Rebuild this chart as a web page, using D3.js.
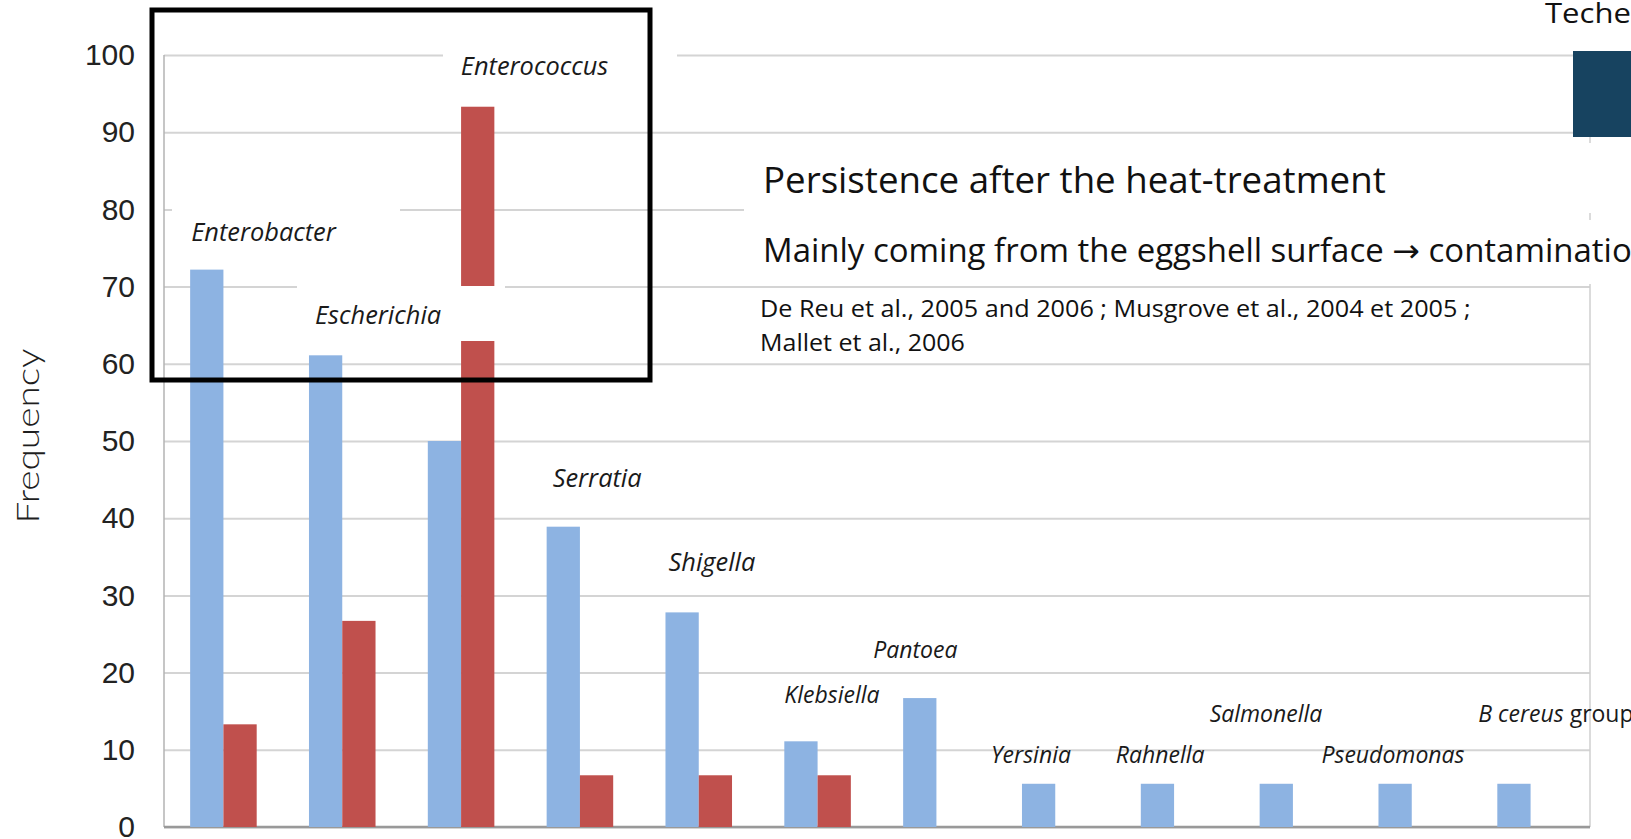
<!DOCTYPE html>
<html>
<head>
<meta charset="utf-8">
<script src="https://cdn.jsdelivr.net/npm/d3@7"></script>
<style>
  body { margin: 0; background: #fff; overflow: hidden; }
  svg { display: block; }
</style>
</head>
<body>
<div id="chart"></div>
<script>
var genera = ["Enterobacter", "Escherichia", "Enterococcus", "Serratia", "Shigella", "Klebsiella",
              "Pantoea", "Yersinia", "Rahnella", "Salmonella", "Pseudomonas", "B cereus group"];
var seriesBlue = [72.2, 61.1, 50.0, 38.9, 27.8, 11.1, 16.7, 5.6, 5.6, 5.6, 5.6, 5.6];
var seriesRed  = [13.3, 26.7, 93.3, 6.7, 6.7, 6.7, 0, 0, 0, 0, 0, 0];
var yTicks = [0, 10, 20, 30, 40, 50, 60, 70, 80, 90, 100];

// where each genus name sits, in px from its group, and its size
var labelDx = [1, 6, 33, 6, 3, 0, -30, -31, -25, -50, -57, -19];
var labelDy = [29, 31, 32, 40, 41, 38, 40, 21, 21, 62, 21, 62];
var labelSize = [25.4, 25.4, 25.4, 25.4, 25.4, 23, 23, 23, 23, 23, 23, 23];

var margin = {top: 55, right: 41, bottom: 12, left: 164},
    width = 1631 - margin.left - margin.right,
    height = 839 - margin.top - margin.bottom;

var x = d3.scaleBand().domain(genera).range([0, width]).paddingInner(0.44).paddingOuter(0.22);
var xs = d3.scaleBand().domain(["blue", "red"]).range([0, x.bandwidth()]);
var y = d3.scaleLinear().domain([0, 100]).range([height, 0]);
var colour = {blue: "#8db3e2", red: "#c0504d"};

var root = d3.select("#chart").append("svg")
    .attr("width", 1631)
    .attr("height", 839);

var svg = root.append("g")
    .attr("transform", "translate(" + margin.left + "," + margin.top + ")");

// gridlines
svg.append("g")
    .call(d3.axisLeft(y).tickValues(yTicks).tickSize(-width).tickFormat(""))
    .call(function(g) { g.select(".domain").remove(); })
    .selectAll("line")
    .attr("stroke", "#d4d4d4")
    .attr("stroke-width", 2);

// y labels
svg.append("g")
    .call(d3.axisLeft(y).tickValues(yTicks).tickSize(0).tickPadding(29))
    .call(function(g) { g.select(".domain").remove(); })
    .selectAll("text")
    .style("font-family", "'Liberation Sans', Arial, sans-serif")
    .style("font-size", "30px")
    .attr("fill", "#222");

svg.append("line")
    .attr("x1", 0).attr("x2", 0).attr("y1", 0).attr("y2", height)
    .attr("stroke", "#b3b3b3").attr("stroke-width", 1.5);

svg.append("line")
    .attr("x1", width).attr("x2", width).attr("y1", 0).attr("y2", height)
    .attr("stroke", "#cfcfcf").attr("stroke-width", 1.5);

svg.append("line")
    .attr("x1", 0).attr("x2", width).attr("y1", height).attr("y2", height)
    .attr("stroke", "#999").attr("stroke-width", 2.5);

var groups = genera.map(function(g, i) {
  return {genus: g, i: i, values: [{key: "blue", v: seriesBlue[i]}, {key: "red", v: seriesRed[i]}]};
});

svg.selectAll(".grp")
    .data(groups)
  .enter().append("g")
    .attr("class", "grp")
    .attr("transform", function(d) { return "translate(" + x(d.genus) + ",0)"; })
  .selectAll("rect")
    .data(function(d) { return d.values.filter(function(e) { return e.v > 0; }); })
  .enter().append("rect")
    .attr("x", function(d) { return xs(d.key); })
    .attr("y", function(d) { return y(d.v); })
    .attr("width", xs.bandwidth())
    .attr("height", function(d) { return height - y(d.v); })
    .attr("fill", function(d) { return colour[d.key]; });

// white text boxes from the slide, they hide parts of the grid
var boxes = [
  [172, 198, 228, 60],
  [297, 286, 208, 55],
  [443, 35, 234, 65],
  [744, 143, 900, 70],
  [744, 220, 900, 64]
];
root.selectAll(".box")
    .data(boxes)
  .enter().append("rect")
    .attr("class", "box")
    .attr("x", function(d) { return d[0]; })
    .attr("y", function(d) { return d[1]; })
    .attr("width", function(d) { return d[2]; })
    .attr("height", function(d) { return d[3]; })
    .attr("fill", "#fff");

var front = root.append("g")
    .attr("transform", "translate(" + margin.left + "," + margin.top + ")");

var labels = front.selectAll(".lab")
    .data(groups)
  .enter().append("text")
    .attr("class", "lab")
    .attr("x", function(d) { return x(d.genus) + labelDx[d.i]; })
    .attr("y", function(d) { return y(d3.max(d.values, function(e) { return e.v; })) - labelDy[d.i]; })
    .style("font-family", "'Open Sans', sans-serif")
    .style("font-size", function(d) { return labelSize[d.i] + "px"; })
    .attr("fill", "#1a1a1a");

labels.append("tspan")
    .style("font-style", "italic")
    .text(function(d) { return d.genus.replace(" group", ""); });
labels.filter(function(d) { return d.genus.indexOf(" group") > 0; })
    .append("tspan")
    .text(" group");

front.append("text")
    .attr("transform", "translate(" + (39 - margin.left) + "," + (436 - margin.top) + ") rotate(-90)")
    .attr("text-anchor", "middle")
    .attr("textLength", 175)
    .attr("lengthAdjust", "spacingAndGlyphs")
    .style("font-family", "Lato, 'Open Sans', sans-serif")
    .style("font-weight", 300)
    .style("font-size", "31px")
    .attr("fill", "#1e1e1e")
    .text("Frequency");

// slide text, squeezed to the width it has in the picture
function slideText(parts, px, py, size, w, chars) {
  var t = root.append("text")
      .attr("x", 0).attr("y", 0)
      .style("font-family", "'Open Sans', sans-serif")
      .style("font-size", size + "px")
      .attr("fill", "#111");
  var total = 0;
  parts.forEach(function(p) {
    var s = t.append("tspan").text(p[0]);
    if (p[1]) s.style("font-family", p[1]);
    total += p[0].length;
  });
  var natural = t.node().getSubStringLength(0, chars || total);
  t.attr("transform", "translate(" + px + "," + py + ") scale(" + (w / natural) + ",1)");
}

slideText([["Persistence after the heat-treatment"]], 763, 193, 37, 623);
slideText([["Mainly coming from the eggshell surface "], ["\u2192", "'DejaVu Sans'"], [" contamination"]], 763, 262, 32, 869, 54);
slideText([["De Reu et al., 2005 and 2006 ; Musgrove et al., 2004 et 2005 ;"]], 760, 317, 23, 711);
slideText([["Mallet et al., 2006"]], 760, 351, 23, 205);
slideText([["Teche"]], 1545, 23, 28, 86);

root.append("rect")
    .attr("x", 152).attr("y", 10)
    .attr("width", 498).attr("height", 370)
    .attr("fill", "none")
    .attr("stroke", "#000")
    .attr("stroke-width", 5);

root.append("rect")
    .attr("x", 1573).attr("y", 51)
    .attr("width", 60).attr("height", 86)
    .attr("fill", "#174360");
</script>
</body>
</html>
